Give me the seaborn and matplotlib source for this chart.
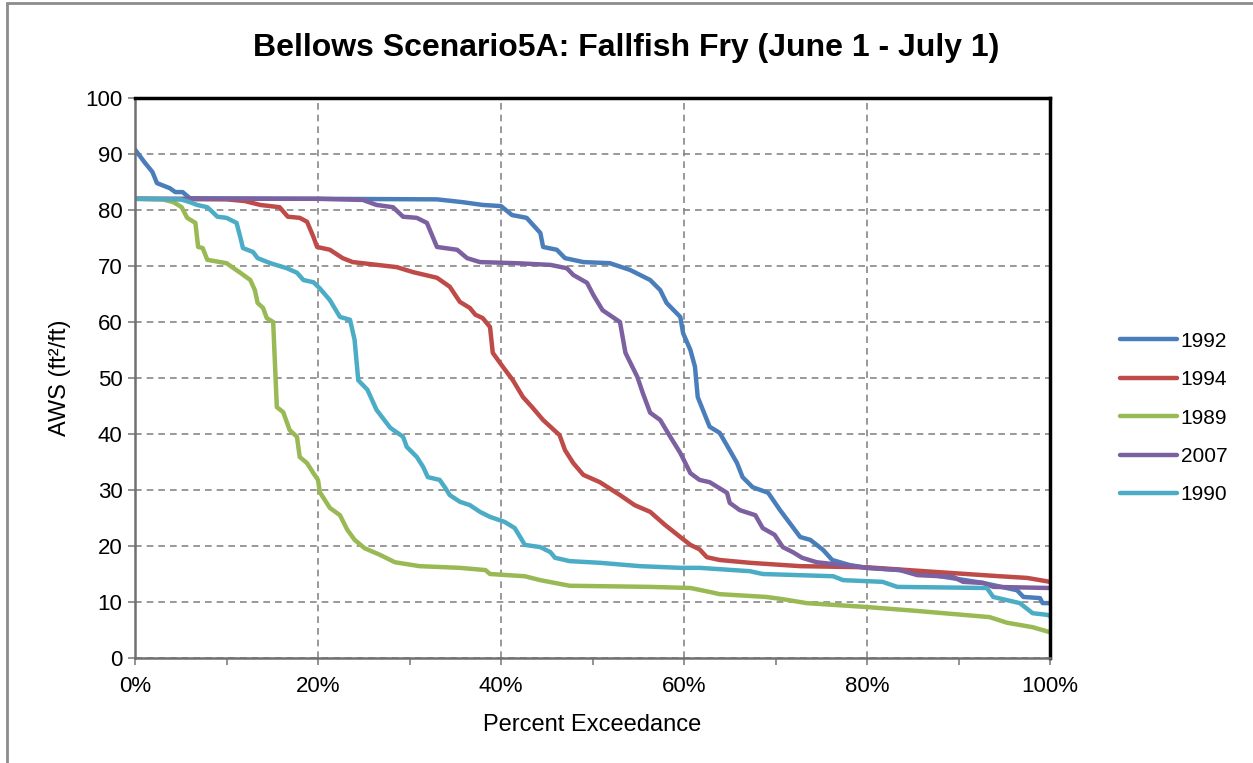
import matplotlib
matplotlib.use("Agg")
import matplotlib.pyplot as plt
import seaborn as sns
import pandas as pd
from matplotlib.ticker import MultipleLocator, FuncFormatter
from matplotlib.patches import Rectangle

# ---- data (percent exceedance, AWS) ----
x_1992 = [0, 1.1, 1.9, 2.4, 3.8, 4.4, 5.2, 6, 20, 33, 35.8, 38, 40, 41.2, 42.8, 44.3, 44.6, 46.1, 47, 49, 51.9,
          54.1, 56.3, 57.4, 58.1, 59.6, 59.9, 60.7, 61.2, 61.5, 62.8, 63.9, 65, 65.8, 66.4, 67.5, 69.2, 70.5,
          72.7, 73.8, 75.2, 76.2, 78.1, 80, 83.6, 87.2, 92.7, 96.4, 97.1, 98.9, 99.2, 100]
y_1992 = [90.8, 88.4, 86.8, 84.8, 83.9, 83.2, 83.2, 82.1, 82, 81.9, 81.4, 80.9, 80.7, 79.1, 78.6, 75.9, 73.4, 72.9,
          71.4, 70.7, 70.5, 69.3, 67.5, 65.7, 63.4, 60.9, 58, 55, 52, 46.6, 41.3, 40.2, 37.1, 34.8, 32.3, 30.5,
          29.5, 26.4, 21.6, 21.1, 19.3, 17.5, 16.6, 16.1, 15.7, 14.8, 13.4, 12.1, 10.9, 10.7, 9.8, 9.8]

x_1994 = [0, 10, 12, 13.7, 15.8, 16.7, 18, 18.8, 19.5, 19.9, 21.3, 22.7, 23.8, 28.6, 30.4, 33, 34.4, 35.5, 36.6,
          37.2, 38, 38.8, 39.1, 40.2, 41.3, 42.4, 43.4, 44.6, 46.4, 47, 47.9, 49, 50.8, 53, 54.6, 56.3, 57.9,
          59.6, 60.7, 61.7, 62.5, 63.9, 67.2, 72.7, 80, 87.2, 94.5, 97.5, 100]
y_1994 = [82, 81.9, 81.6, 80.9, 80.5, 78.8, 78.6, 77.9, 75.2, 73.4, 72.9, 71.4, 70.7, 69.8, 68.9, 67.9, 66.3, 63.6,
          62.5, 61.3, 60.7, 59.1, 54.5, 52, 49.6, 46.6, 44.8, 42.5, 39.8, 37.1, 34.8, 32.7, 31.4, 29.1, 27.3,
          26.1, 23.8, 21.6, 20.2, 19.4, 18, 17.5, 17, 16.4, 16.2, 15.4, 14.6, 14.3, 13.6]

x_1989 = [0, 3, 4.2, 5.1, 5.7, 6.6, 6.9, 7.4, 7.9, 10, 11.5, 12.6, 13.1, 13.4, 14, 14.4, 15.1, 15.5, 16.2, 16.9,
          17.7, 18, 18.8, 19.5, 20, 20.2, 21.3, 22.4, 23.2, 24, 25.1, 26.8, 28.4, 31.1, 35.5, 38.3, 38.8, 42.6,
          44.3, 47.5, 56.3, 60.7, 62.8, 63.9, 69, 70.8, 73.4, 80, 85.5, 93.4, 95.3, 98.1, 100]
y_1989 = [82, 81.9, 81.4, 80.5, 78.6, 77.7, 73.4, 73.2, 71.1, 70.5, 68.8, 67.5, 65.7, 63.4, 62.5, 60.7, 60, 44.8,
          43.9, 40.7, 39.5, 35.9, 34.8, 33, 31.8, 29.6, 26.8, 25.5, 22.9, 21.1, 19.6, 18.4, 17.1, 16.4, 16.1,
          15.7, 15, 14.6, 13.9, 12.9, 12.7, 12.5, 11.8, 11.4, 10.9, 10.5, 9.8, 9.1, 8.4, 7.3, 6.3, 5.5, 4.6]

x_2007 = [0, 20, 24.9, 26.4, 28.2, 29.3, 30.8, 31.9, 33, 35.2, 36.3, 37.7, 41.7, 45.4, 47.2, 47.9, 49.4, 50.1,
          51.1, 53, 53.6, 54.9, 55.5, 56.3, 57.4, 58.5, 59.6, 60.7, 61.7, 62.8, 64.7, 65, 66.1, 67.8, 68.6, 69.9,
          70.8, 71.9, 72.9, 74.5, 80, 83.6, 85.5, 89.4, 90.5, 92.7, 93.8, 100]
y_2007 = [82, 82, 81.8, 80.9, 80.5, 78.8, 78.6, 77.7, 73.4, 72.9, 71.4, 70.7, 70.5, 70.2, 69.6, 68.4, 67, 64.8,
          62.1, 60, 54.5, 50.2, 47.3, 43.8, 42.5, 39.5, 36.6, 33, 31.8, 31.4, 29.5, 27.7, 26.4, 25.5, 23.2, 22,
          19.8, 18.9, 17.9, 17.1, 16.1, 15.7, 14.8, 14.5, 13.6, 13.4, 12.7, 12.5]

x_1990 = [0, 5, 6, 6.8, 7.9, 8.5, 9, 10, 11.1, 11.5, 11.8, 12.9, 13.4, 14.8, 16.6, 17.7, 18.4, 19.5, 20.2, 21.3,
          22.4, 23.5, 24, 24.4, 25.4, 26.4, 27.9, 29.3, 29.7, 30.8, 31.5, 32, 33.3, 33.9, 34.4, 35.5, 36.6, 37.7,
          38.8, 40.4, 41.5, 42.1, 42.6, 44.3, 45.4, 45.9, 47.5, 50.8, 55.2, 59.6, 61.7, 67.2, 68.6, 76.3, 77.4,
          81.7, 83.3, 93.1, 93.8, 96.7, 98.1, 99.7, 100]
y_1990 = [82, 81.9, 81.4, 80.9, 80.5, 79.6, 78.8, 78.6, 77.7, 75.2, 73.2, 72.5, 71.4, 70.5, 69.6, 68.8, 67.5, 67.1,
          66, 63.9, 60.9, 60.4, 56.8, 49.6, 47.9, 44.3, 41.1, 39.5, 37.7, 35.9, 34.1, 32.3, 31.8, 30.4, 29.1,
          27.9, 27.3, 26.1, 25.2, 24.3, 23.2, 21.6, 20.2, 19.8, 18.9, 17.9, 17.3, 17, 16.4, 16.1, 16.1, 15.5, 15,
          14.6, 13.9, 13.6, 12.7, 12.5, 10.9, 9.8, 8, 7.7, 7.5]

series_names = ["1992", "1994", "1989", "2007", "1990"]
series_x = [x_1992, x_1994, x_1989, x_2007, x_1990]
series_y = [y_1992, y_1994, y_1989, y_2007, y_1990]
colors = ["#4A7EBB", "#BE4B48", "#98B954", "#7D60A0", "#4BACC6"]

title = "Bellows Scenario5A: Fallfish Fry (June 1 - July 1)"
xlabel = "Percent Exceedance"
ylabel = "AWS (ft\u00b2/ft)"

frames = []
for n, xs, ys in zip(series_names, series_x, series_y):
    frames.append(pd.DataFrame({"x": xs, "y": ys, "series": n, "order": range(len(xs))}))
df = pd.concat(frames, ignore_index=True)

sns.set_theme(style="white")
plt.rcParams["font.family"] = ["Liberation Sans", "DejaVu Sans"]
plt.rcParams["text.color"] = "black"
plt.rcParams["axes.labelcolor"] = "black"
plt.rcParams["xtick.color"] = "black"
plt.rcParams["ytick.color"] = "black"

fig = plt.figure(figsize=(12.53, 7.63), dpi=100)
ax = fig.add_axes([135 / 1253, 1 - 658 / 763, (1050 - 135) / 1253, (658 - 98) / 763])

for n, c in zip(series_names, colors):
    sub = df[df["series"] == n]
    sns.lineplot(data=sub, x="x", y="y", sort=False, estimator=None, color=c, lw=3.2,
                 solid_joinstyle="round", solid_capstyle="round", ax=ax, label=n)

ax.set_xlim(0, 100)
ax.set_ylim(0, 100)
ax.xaxis.set_major_locator(MultipleLocator(20))
ax.xaxis.set_minor_locator(MultipleLocator(10))
ax.yaxis.set_major_locator(MultipleLocator(10))
ax.xaxis.set_major_formatter(FuncFormatter(lambda v, p: f"{int(round(v))}%"))

ax.grid(True, which="major", axis="both", color="#878787", lw=1.2, linestyle=(0, (4, 3)))
ax.set_axisbelow(True)

ax.tick_params(axis="both", which="both", direction="out", length=5, width=1.2, color="#808080",
               labelsize=16, labelcolor="black", bottom=True, left=True)
ax.tick_params(axis="x", pad=8)
ax.tick_params(axis="y", pad=4)

for s in ["top", "right"]:
    ax.spines[s].set_color("black")
    ax.spines[s].set_linewidth(2.5)
for s in ["left", "bottom"]:
    ax.spines[s].set_color("#707070")
    ax.spines[s].set_linewidth(1.8)

ax.set_xlabel(xlabel, fontsize=17, labelpad=12, color="black")
ax.set_ylabel(ylabel, fontsize=17, labelpad=10, color="black")

ax.get_legend().remove()
handles, labels = ax.get_legend_handles_labels()
fig.legend(handles, labels, loc="center left", bbox_to_anchor=(1112 / 1253, 1 - 418 / 763),
           frameon=False, fontsize=15, handlelength=2.7, handletextpad=0.2, labelspacing=0.93,
           borderaxespad=0, labelcolor="black")

fig.text(0.5, 1 - 48 / 763, title, ha="center", va="center", fontsize=23, fontweight="bold", color="black")

fig.patches.append(Rectangle((7 / 1253, -0.01), 1.1, 1 - 3 / 763 + 0.01, transform=fig.transFigure,
                             fill=False, edgecolor="#8c8c8c", lw=2))

fig.savefig("out.png", dpi=100, facecolor="white")
